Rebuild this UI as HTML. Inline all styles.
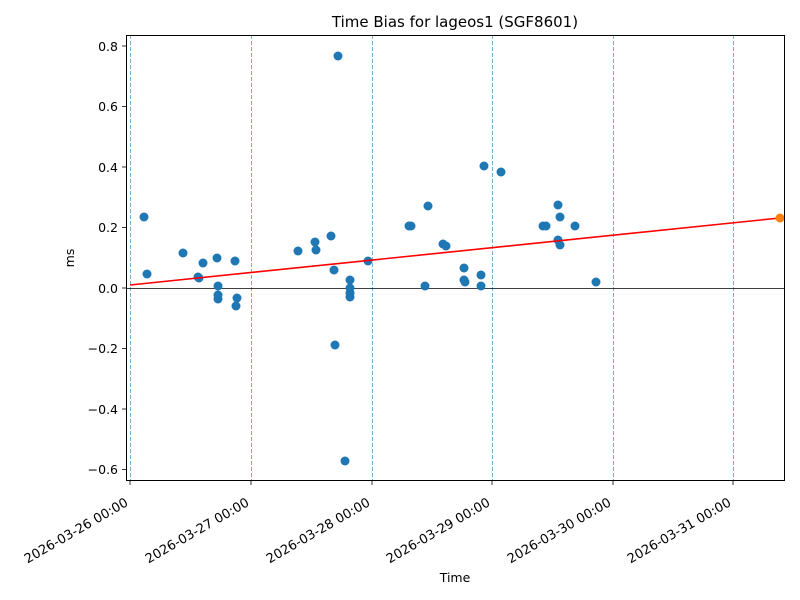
<!DOCTYPE html>
<html><head><meta charset="utf-8"><style>body{margin:0;background:#fff}svg{display:block}text{font-family:"DejaVu Sans","Liberation Sans",sans-serif;font-size:12.5px;fill:#000}</style></head>
<body>
<svg width="800" height="600" viewBox="0 0 800 600">
<rect width="800" height="600" fill="#fff"/>
<text x="455" y="27" text-anchor="middle" style="font-size:15px">Time Bias for lageos1 (SGF8601)</text>
<g stroke="#1f77b4" stroke-width="0.6" stroke-dasharray="4,2">
<line x1="130.5" y1="35" x2="130.5" y2="481"/><line x1="251.5" y1="35" x2="251.5" y2="481"/><line x1="372.5" y1="35" x2="372.5" y2="481"/><line x1="492.5" y1="35" x2="492.5" y2="481"/><line x1="613.5" y1="35" x2="613.5" y2="481"/><line x1="733.5" y1="35" x2="733.5" y2="481"/>
</g>
<line x1="126" y1="288.5" x2="785" y2="288.5" stroke="#000" stroke-width="0.8"/>
<g fill="#1f77b4">
<circle cx="144" cy="217" r="4.5"/><circle cx="147" cy="274" r="4.5"/><circle cx="183" cy="253" r="4.5"/><circle cx="198" cy="277" r="4.5"/><circle cx="199" cy="278" r="4.5"/><circle cx="203" cy="263" r="4.5"/><circle cx="217" cy="258" r="4.5"/><circle cx="218" cy="286" r="4.5"/><circle cx="218" cy="295" r="4.5"/><circle cx="218" cy="299" r="4.5"/><circle cx="235" cy="261" r="4.5"/><circle cx="236" cy="306" r="4.5"/><circle cx="237" cy="298" r="4.5"/><circle cx="298" cy="251" r="4.5"/><circle cx="315" cy="242" r="4.5"/><circle cx="316" cy="250" r="4.5"/><circle cx="331" cy="236" r="4.5"/><circle cx="334" cy="270" r="4.5"/><circle cx="335" cy="345" r="4.5"/><circle cx="338" cy="56" r="4.5"/><circle cx="345" cy="461" r="4.5"/><circle cx="350" cy="280" r="4.5"/><circle cx="350" cy="288" r="4.5"/><circle cx="350" cy="293" r="4.5"/><circle cx="350" cy="297" r="4.5"/><circle cx="368" cy="261" r="4.5"/><circle cx="409" cy="226" r="4.5"/><circle cx="411" cy="226" r="4.5"/><circle cx="425" cy="286" r="4.5"/><circle cx="428" cy="206" r="4.5"/><circle cx="443" cy="244" r="4.5"/><circle cx="446" cy="246" r="4.5"/><circle cx="464" cy="268" r="4.5"/><circle cx="464" cy="280" r="4.5"/><circle cx="465" cy="282" r="4.5"/><circle cx="481" cy="275" r="4.5"/><circle cx="481" cy="286" r="4.5"/><circle cx="484" cy="166" r="4.5"/><circle cx="501" cy="172" r="4.5"/><circle cx="543" cy="226" r="4.5"/><circle cx="546" cy="226" r="4.5"/><circle cx="558" cy="205" r="4.5"/><circle cx="558" cy="240" r="4.5"/><circle cx="560" cy="217" r="4.5"/><circle cx="560" cy="245" r="4.5"/><circle cx="575" cy="226" r="4.5"/><circle cx="596" cy="282" r="4.5"/>
</g>
<line x1="130" y1="285" x2="780" y2="218" stroke="#ff0000" stroke-width="1.6"/>
<circle cx="780" cy="218" r="4.5" fill="#ff7f0e"/>
<rect x="126.5" y="35.5" width="658" height="445" fill="none" stroke="#000" stroke-width="1"/>
<g stroke="#000" stroke-width="0.8">
<line x1="122" y1="46" x2="126" y2="46"/><line x1="122" y1="106.5" x2="126" y2="106.5"/><line x1="122" y1="167" x2="126" y2="167"/><line x1="122" y1="227.5" x2="126" y2="227.5"/><line x1="122" y1="288" x2="126" y2="288"/><line x1="122" y1="348.5" x2="126" y2="348.5"/><line x1="122" y1="409" x2="126" y2="409"/><line x1="122" y1="469.5" x2="126" y2="469.5"/>
<line x1="130" y1="481" x2="130" y2="485"/><line x1="251" y1="481" x2="251" y2="485"/><line x1="372" y1="481" x2="372" y2="485"/><line x1="492" y1="481" x2="492" y2="485"/><line x1="613" y1="481" x2="613" y2="485"/><line x1="733" y1="481" x2="733" y2="485"/>
</g>
<g text-anchor="end">
<text x="118" y="51">0.8</text><text x="118" y="111">0.6</text><text x="118" y="172">0.4</text><text x="118" y="232">0.2</text><text x="118" y="293">0.0</text><text x="118" y="353">−0.2</text><text x="118" y="414">−0.4</text><text x="118" y="474">−0.6</text>
</g>
<g text-anchor="end" style="font-size:13px">
<text transform="translate(129,505) rotate(-30)" style="font-size:13px">2026-03-26 00:00</text>
<text transform="translate(250,505) rotate(-30)" style="font-size:13px">2026-03-27 00:00</text>
<text transform="translate(371,505) rotate(-30)" style="font-size:13px">2026-03-28 00:00</text>
<text transform="translate(491,505) rotate(-30)" style="font-size:13px">2026-03-29 00:00</text>
<text transform="translate(612,505) rotate(-30)" style="font-size:13px">2026-03-30 00:00</text>
<text transform="translate(732,505) rotate(-30)" style="font-size:13px">2026-03-31 00:00</text>
</g>
<text x="455" y="582" text-anchor="middle">Time</text>
<text transform="translate(74,258) rotate(-90)" text-anchor="middle">ms</text>
</svg>
</body></html>
